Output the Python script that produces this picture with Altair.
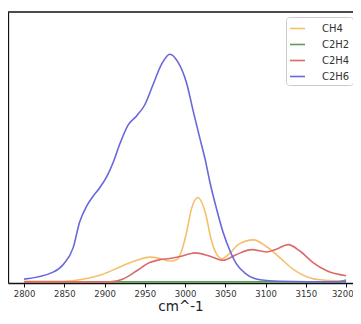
import altair as alt
import pandas as pd

# wavenumber / intensity pairs
ch4_x = [2800, 2849, 2874, 2898, 2919, 2940, 2956, 2969, 2981, 2990, 2998, 3002, 3008, 3016, 3025, 3033, 3041, 3046, 3054, 3066, 3085, 3101, 3118, 3134, 3151, 3168, 3200]
ch4_y = [0.003, 0.003, 0.013, 0.034, 0.066, 0.095, 0.109, 0.103, 0.092, 0.099, 0.164, 0.221, 0.323, 0.372, 0.307, 0.178, 0.113, 0.102, 0.121, 0.164, 0.185, 0.156, 0.106, 0.056, 0.023, 0.009, 0.003]

c2h2_x = [2800, 2900, 3000, 3100, 3190, 3200]
c2h2_y = [0.0, 0.0, 0.0, 0.0, 0.0, 0.008]

c2h4_x = [2800, 2907, 2923, 2940, 2956, 2969, 2981, 2994, 3006, 3012, 3031, 3047, 3064, 3083, 3101, 3114, 3128, 3143, 3159, 3176, 3200]
c2h4_y = [0.0, 0.0, 0.013, 0.049, 0.085, 0.098, 0.103, 0.112, 0.124, 0.128, 0.113, 0.095, 0.121, 0.142, 0.132, 0.145, 0.164, 0.135, 0.085, 0.049, 0.027]

c2h6_x = [2800, 2836, 2849, 2861, 2869, 2878, 2886, 2894, 2903, 2911, 2919, 2929, 2940, 2950, 2960, 2971, 2981, 2991, 3002, 3010, 3018, 3025, 3031, 3039, 3047, 3056, 3064, 3076, 3093, 3118, 3200]
c2h6_y = [0.012, 0.043, 0.078, 0.151, 0.264, 0.336, 0.379, 0.415, 0.466, 0.530, 0.609, 0.690, 0.733, 0.781, 0.868, 0.961, 1.004, 0.970, 0.875, 0.754, 0.638, 0.539, 0.437, 0.323, 0.221, 0.135, 0.078, 0.034, 0.009, 0.003, 0.0]

species = ["CH4", "C2H2", "C2H4", "C2H6"]
colors = ["#f5c06a", "#5a9e5a", "#dd6a6a", "#6868dc"]
x_ticks = [2800, 2850, 2900, 2950, 3000, 3050, 3100, 3150, 3200]

rows = []
for name, xs, ys in [("CH4", ch4_x, ch4_y), ("C2H2", c2h2_x, c2h2_y),
                     ("C2H4", c2h4_x, c2h4_y), ("C2H6", c2h6_x, c2h6_y)]:
    for a, b in zip(xs, ys):
        rows.append({"species": name, "wn": a, "val": b, "ord": species.index(name)})
df = pd.DataFrame(rows)

font = "DejaVu Sans"

lines = alt.Chart(df).mark_line(strokeWidth=1.6, interpolate="monotone", clip=True).encode(
    x=alt.X("wn:Q", scale=alt.Scale(domain=[2780, 3208.6], nice=False, zero=False),
            axis=alt.Axis(values=x_ticks, title="cm^-1", grid=False, labelFontSize=8.5,
                          titleFontSize=13.5, titleFont=font, labelFont=font,
                          titleFontWeight="normal", labelColor="#333", titleColor="#222",
                          domainColor="#111", domainWidth=1.3, tickColor="#111",
                          tickSize=4, labelPadding=2, titlePadding=2, format="d",
                          labelFlush=10, labelFlushOffset=7)),
    y=alt.Y("val:Q", scale=alt.Scale(domain=[-0.005, 1.19], nice=False, zero=False),
            axis=alt.Axis(labels=False, ticks=False, title=None, grid=False,
                          domainColor="#111", domainWidth=1.3)),
    color=alt.Color("species:N", sort=species,
                    scale=alt.Scale(domain=species, range=colors),
                    legend=alt.Legend(title=None, orient="none", legendX=278, legendY=5,
                                      symbolType="stroke", symbolStrokeWidth=1.6,
                                      symbolSize=225, labelFontSize=10, labelFont=font,
                                      labelColor="#333", rowPadding=2, labelOffset=16,
                                      strokeColor="#ccc", fillColor="white",
                                      cornerRadius=3, padding=3)),
    detail="species:N",
    order="ord:Q",
)

top = alt.Chart(pd.DataFrame({"a": [0]})).mark_rule(color="#111", strokeWidth=1.3).encode(
    y=alt.value(0)
)

chart = alt.layer(lines, top).properties(
    width=345, height=271,
    padding={"left": 0, "top": 4, "right": 0, "bottom": 33},
    autosize=alt.AutoSizeParams(type="none"),
).configure_view(stroke=None)

chart.save("out.html", embed_options={"renderer": "svg", "actions": False})
